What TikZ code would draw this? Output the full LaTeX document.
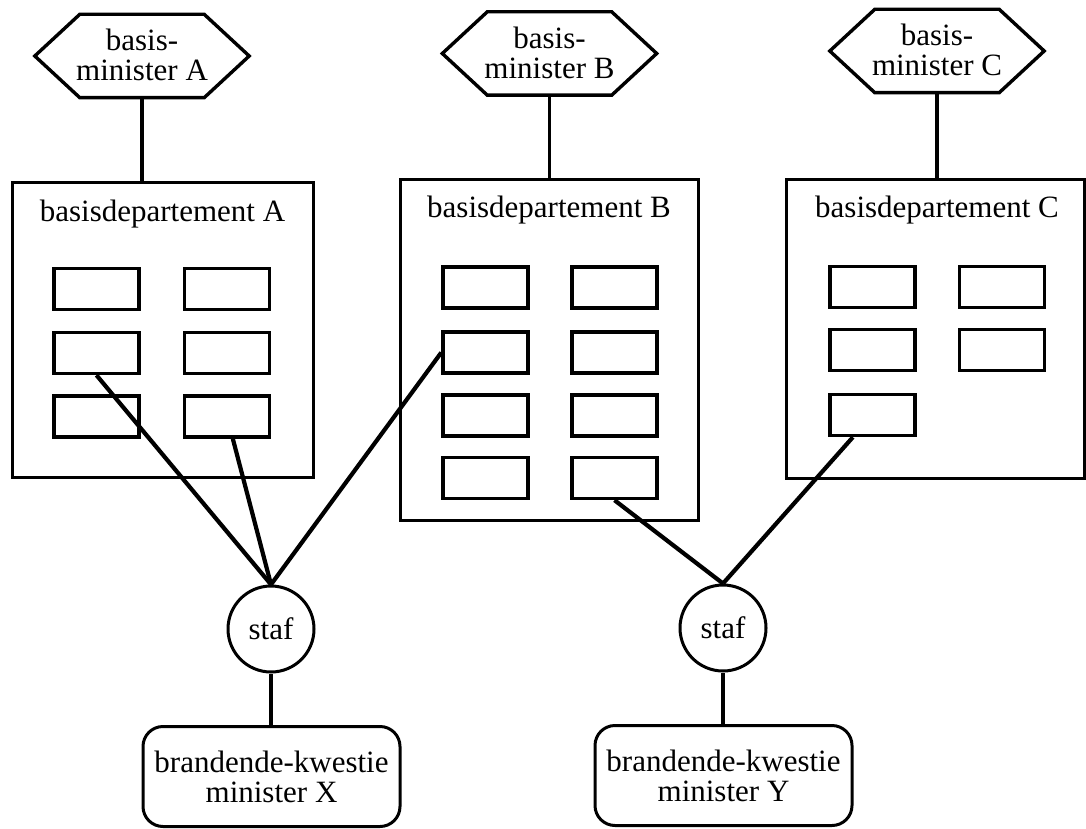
\documentclass[tikz,border=0pt]{standalone}
\usepackage{fontspec}
\setmainfont{Liberation Serif}
\begin{document}
\begin{tikzpicture}[x=1pt,y=-1pt,
  txt/.style={font=\fontsize{31}{30}\selectfont, align=center, inner sep=0pt},
  hexa/.style={draw=none, minimum width=214pt, minimum height=83pt, inner sep=0pt},
  dept/.style={draw, line width=3pt, inner sep=0pt},
  unit/.style={draw, line width=3.4pt, minimum width=85pt, minimum height=41pt, inner sep=0pt},
  staf/.style={circle, draw, line width=3pt, minimum size=86pt, inner sep=0pt, txt},
  burn/.style={draw, line width=3pt, rounded corners=20pt, minimum width=257pt, minimum height=100pt, inner sep=0pt, txt},
  stem/.style={line width=3.2pt},
  link/.style={line width=4.2pt},
  hexline/.style={line width=3.4pt, line join=miter}
]
\useasboundingbox (0,0) rectangle (1086,829);

% hexagons (ministers)
\foreach \n/\x/\y/\t in {hA/142/56/A, hB/549.5/53.5/B, hC/937/51/C}{
  \node[hexa] (\n) at (\x,\y) {};
  \draw[hexline] ([xshift=45pt]\n.north west) -- ([xshift=-45pt]\n.north east) -- (\n.east)
     -- ([xshift=-45pt]\n.south east) -- ([xshift=45pt]\n.south west) -- (\n.west) -- cycle;
  \node[txt] at ([yshift=1pt]\n.center) {basis-\\minister \t};
}

% departments
\node[dept, minimum width=301pt, minimum height=294pt] (dA) at (162.5,330) {};
\node[dept, minimum width=298pt, minimum height=340pt] (dB) at (549,350) {};
\node[dept, minimum width=298pt, minimum height=298pt] (dC) at (935,329) {};
\node[txt, anchor=base] (tA) at (162.5,222) {basisdepartement A};
\node[txt, anchor=base] (tB) at (549,218) {basisdepartement B};
\node[txt, anchor=base] (tC) at (937,218) {basisdepartement C};

% stems minister -> department
\draw[stem] (hA.south) -- (hA.south |- dA.north);
\draw[stem] (hB.south) -- (hB.south |- dB.north);
\draw[stem] (hC.south) -- (hC.south |- dC.north);

% units A
\node[unit] (a11) at (96.5,289) {};
\node[unit] (a12) at (227,289) {};
\node[unit] (a21) at (96.5,353) {};
\node[unit] (a22) at (227,353) {};
\node[unit] (a31) at (96.5,416.5) {};
\node[unit] (a32) at (227,416.5) {};
% units B
\node[unit] (b11) at (485.5,287.5) {};
\node[unit] (b12) at (614.5,287.5) {};
\node[unit] (b21) at (485.5,352.5) {};
\node[unit] (b22) at (614.5,352.5) {};
\node[unit] (b31) at (485.5,415.5) {};
\node[unit] (b32) at (614.5,415.5) {};
\node[unit] (b41) at (485.5,478) {};
\node[unit] (b42) at (614.5,478) {};
% units C
\node[unit] (c11) at (872.5,287) {};
\node[unit] (c12) at (1002,287) {};
\node[unit] (c21) at (872.5,350) {};
\node[unit] (c22) at (1002,350) {};
\node[unit] (c31) at (872.5,415) {};

% staff circles
\node[staf] (sX) at (271,629) {staf};
\node[staf] (sY) at (723,628) {staf};

% burning-issue ministers
\node[burn] (mX) at (271.5,776.5) {brandende-kwestie\\minister X};
\node[burn] (mY) at (723.5,775.5) {brandende-kwestie\\minister Y};

% links
\draw[link] (a21.south) -- (sX.north);
\draw[link] (a32) -- (sX.north);
\draw[link] (b21.west) -- (sX.north);
\draw[link] (b42.south) -- (sY.north);
\draw[link] (c31) -- (sY.north);

\draw[stem] (sX.south) -- (sX.south |- mX.north);
\draw[stem] (sY.south) -- (sY.south |- mY.north);
\end{tikzpicture}
\end{document}
